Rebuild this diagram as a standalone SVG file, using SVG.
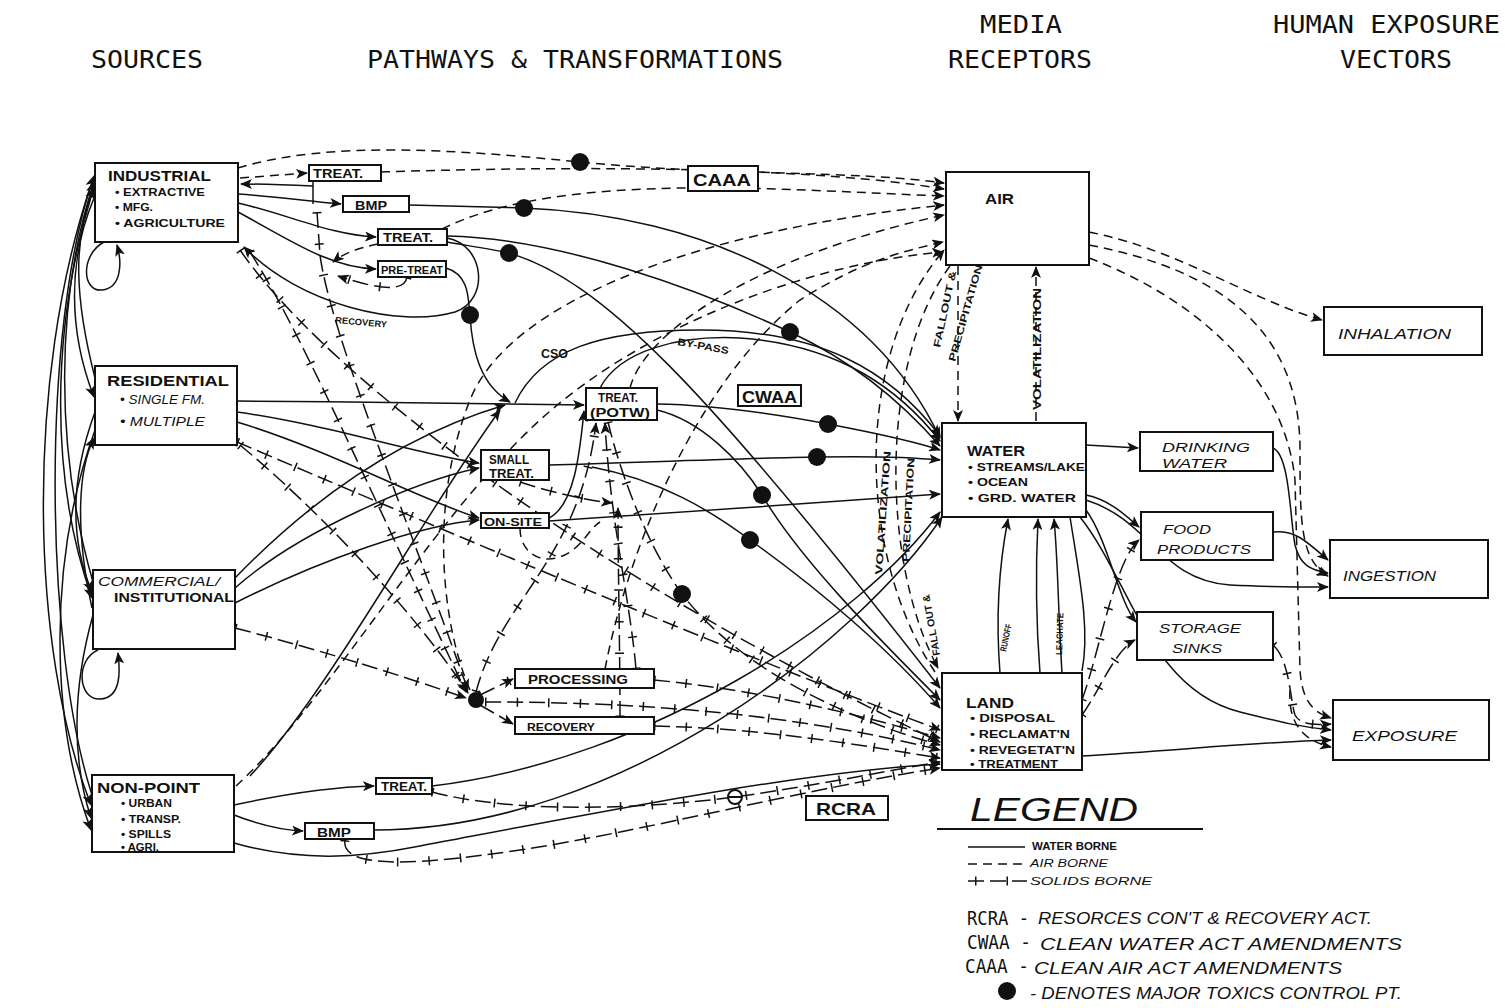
<svg xmlns="http://www.w3.org/2000/svg" width="1505" height="1008" viewBox="0 0 1505 1008">
<style>
.bg{fill:#fff}
.box{fill:#fff;stroke:#111;stroke-width:2}
.hd{font-family:"DejaVu Sans Mono","Liberation Mono",monospace;font-size:25px;fill:#111}
.cd{font-family:"DejaVu Sans Mono","Liberation Mono",monospace;font-size:20px;fill:#111}
.lb{font-family:"Liberation Sans",Arial,sans-serif;fill:#111;font-weight:bold}
.hw{font-family:"Liberation Sans",Arial,sans-serif;font-style:italic;fill:#111}
.w{fill:none;stroke:#111;stroke-width:1.5}
.a{fill:none;stroke:#111;stroke-width:1.5;stroke-dasharray:9 6}
.s{fill:none;stroke:#111;stroke-width:1.5;stroke-dasharray:16 6}
.t{fill:none;stroke:#111;stroke-width:9;stroke-dasharray:1.5 30}
.dot{fill:#111}
</style>
<defs>
<marker id="ah" viewBox="0 0 12 10" refX="11" refY="5" markerWidth="12" markerHeight="10" markerUnits="userSpaceOnUse" orient="auto">
<path d="M0,0 L12,5 L0,10 L3,5 z" fill="#111"/>
</marker>
</defs>
<rect class="bg" x="0" y="0" width="1505" height="1008"/>

<g id="headers">
<text class="hd" x="91" y="68" textLength="112" lengthAdjust="spacingAndGlyphs">SOURCES</text>
<text class="hd" x="367" y="68" textLength="416" lengthAdjust="spacingAndGlyphs">PATHWAYS &amp; TRANSFORMATIONS</text>
<text class="hd" x="980" y="33" textLength="82" lengthAdjust="spacingAndGlyphs">MEDIA</text>
<text class="hd" x="948" y="68" textLength="144" lengthAdjust="spacingAndGlyphs">RECEPTORS</text>
<text class="hd" x="1273" y="33" textLength="227" lengthAdjust="spacingAndGlyphs">HUMAN EXPOSURE</text>
<text class="hd" x="1340" y="68" textLength="112" lengthAdjust="spacingAndGlyphs">VECTORS</text>
</g>

<g id="connectors">
<path class="w" marker-end="url(#ah)" d="M92,795 C45,650 40,330 94,176"/>
<path class="w" marker-end="url(#ah)" d="M93,582 C55,450 55,300 94,182"/>
<path class="w" marker-end="url(#ah)" d="M95,378 C75,300 72,240 94,188"/>
<path class="w" marker-end="url(#ah)" d="M94,198 C68,260 68,330 94,397"/>
<path class="w" marker-end="url(#ah)" d="M93,190 C50,330 50,480 92,598"/>
<path class="w" marker-end="url(#ah)" d="M91,185 C25,380 30,650 91,805"/>
<path class="w" marker-end="url(#ah)" d="M95,412 C70,480 70,540 92,592"/>
<path class="w" marker-end="url(#ah)" d="M92,608 C75,530 78,470 94,438"/>
<path class="w" marker-end="url(#ah)" d="M93,615 C72,690 72,760 91,818"/>
<path class="w" marker-end="url(#ah)" d="M95,430 C48,560 50,720 91,830"/>
<path class="w" marker-end="url(#ah)" d="M104,242 C80,255 82,292 102,290 C122,288 122,262 117,245"/>
<path class="w" marker-end="url(#ah)" d="M98,650 C75,660 78,700 100,699 C122,698 120,670 118,653"/>

<path class="a" marker-end="url(#ah)" d="M238,168 C330,140 460,150 580,162 C720,176 850,170 944,183"/>
<path class="a" marker-end="url(#ah)" d="M240,178 L307,173"/>
<path class="a" marker-end="url(#ah)" d="M381,172 C600,165 820,168 944,189"/>
<path class="w" marker-end="url(#ah)" d="M238,194 C270,196 300,200 341,204"/>
<path class="w" d="M313,181 L313,204"/>
<path class="w" marker-end="url(#ah)" d="M313,186 C290,185 265,184 241,184"/>
<path class="w" marker-end="url(#ah)" d="M238,203 C290,215 330,235 376,237"/>
<path class="w" marker-end="url(#ah)" d="M238,212 C290,240 330,268 376,269"/>
<path class="w" marker-end="url(#ah)" d="M447,238 C485,245 490,300 455,312 C400,328 300,305 244,247"/>
<path class="w" marker-end="url(#ah)" d="M446,268 C470,275 468,300 470,315 C472,350 480,385 510,402"/>
<path class="a" marker-end="url(#ah)" d="M378,244 C360,248 345,252 333,262"/>
<path class="s" marker-end="url(#ah)" d="M407,277 C405,292 380,290 338,276"/>
<path class="t" d="M407,277 C405,292 380,290 338,276"/>
<path class="s" marker-end="url(#ah)" d="M317,212 L320,255 C330,330 400,500 468,690"/>
<path class="t" d="M317,212 L320,255 C330,330 400,500 468,690"/>
<path class="s" marker-end="url(#ah)" d="M240,250 C330,380 600,580 940,742"/>
<path class="t" d="M240,250 C330,380 600,580 940,742"/>
<path class="s" marker-end="url(#ah)" d="M250,252 C300,330 360,470 466,692"/>
<path class="t" d="M250,252 C300,330 360,470 466,692"/>
<path class="w" marker-end="url(#ah)" d="M409,205 C460,206 490,207 524,208 C700,215 870,290 940,438"/>
<path class="w" marker-end="url(#ah)" d="M447,236 C560,238 700,290 790,332 C850,360 900,400 940,446"/>
<path class="w" marker-end="url(#ah)" d="M447,242 C470,246 490,249 509,253 C600,280 700,380 940,688"/>
<path class="a" marker-end="url(#ah)" d="M442,229 C560,170 780,190 944,196"/>

<path class="w" marker-end="url(#ah)" d="M237,401 C350,402 450,403 584,405"/>
<path class="w" marker-end="url(#ah)" d="M237,412 C330,425 420,455 479,463"/>
<path class="w" marker-end="url(#ah)" d="M237,422 C330,450 420,500 479,518"/>
<path class="w" marker-end="url(#ah)" d="M235,578 C330,480 420,430 505,405"/>
<path class="w" marker-end="url(#ah)" d="M235,588 C300,530 420,480 479,468"/>
<path class="w" marker-end="url(#ah)" d="M235,603 C320,560 420,525 479,520"/>
<path class="w" marker-end="url(#ah)" d="M250,776 C330,690 420,520 500,410"/>
<path class="s" marker-end="url(#ah)" d="M237,442 C420,520 700,640 940,730"/>
<path class="t" d="M237,442 C420,520 700,640 940,730"/>
<path class="s" marker-end="url(#ah)" d="M240,445 C330,520 420,620 468,693"/>
<path class="t" d="M240,445 C330,520 420,620 468,693"/>
<path class="s" marker-end="url(#ah)" d="M235,628 C320,650 400,675 466,698"/>
<path class="t" d="M235,628 C320,650 400,675 466,698"/>

<path class="w" marker-end="url(#ah)" d="M515,403 C540,350 600,330 700,330 C820,330 890,370 940,436"/>
<path class="w" marker-end="url(#ah)" d="M600,388 C620,350 680,335 740,338 C840,345 900,390 940,441"/>
<path class="w" marker-end="url(#ah)" d="M657,404 C720,405 780,415 828,424 C870,432 910,440 940,450"/>
<path class="w" marker-end="url(#ah)" d="M657,410 C700,420 740,460 762,495 C800,560 880,640 940,700"/>
<path class="w" marker-end="url(#ah)" d="M549,465 C650,462 750,458 817,457 C870,456 910,457 940,460"/>
<path class="w" marker-end="url(#ah)" d="M592,467 C660,480 710,510 750,540 C820,590 890,650 940,708"/>
<path class="w" marker-end="url(#ah)" d="M549,518 C575,505 580,450 584,411"/>
<path class="w" marker-end="url(#ah)" d="M549,521 C650,515 850,500 940,494"/>
<path class="a" d="M520,528 C520,555 545,568 570,552 C585,542 590,528 600,522"/>
<path class="a" marker-end="url(#ah)" d="M630,388 C645,330 760,255 944,215"/>
<path class="a" marker-end="url(#ah)" d="M470,690 C440,620 430,500 470,400 C510,300 700,230 944,205"/>
<path class="a" marker-end="url(#ah)" d="M605,669 C630,540 700,380 800,300 C860,262 900,252 943,242"/>

<path class="s" marker-end="url(#ah)" d="M520,482 C550,492 585,500 612,503"/>
<path class="t" d="M520,482 C550,492 585,500 612,503"/>
<path class="s" marker-end="url(#ah)" d="M620,717 C620,650 618,570 618,508"/>
<path class="t" d="M620,717 C620,650 618,570 618,508"/>
<path class="s" marker-end="url(#ah)" d="M636,669 C630,600 610,520 605,423"/>
<path class="t" d="M636,669 C630,600 610,520 605,423"/>
<path class="s" marker-end="url(#ah)" d="M476,692 C500,600 580,560 596,423"/>
<path class="t" d="M476,692 C500,600 580,560 596,423"/>
<path class="s" marker-end="url(#ah)" d="M608,422 C622,480 650,550 682,594 C740,670 850,720 940,745"/>
<path class="t" d="M608,422 C622,480 650,550 682,594 C740,670 850,720 940,745"/>
<path class="s" marker-end="url(#ah)" d="M480,695 L513,679"/>
<path class="s" marker-end="url(#ah)" d="M480,705 L513,724"/>
<path class="t" d="M480,695 L513,679"/>
<path class="s" marker-end="url(#ah)" d="M485,702 C650,702 800,715 940,750"/>
<path class="t" d="M485,702 C650,702 800,715 940,750"/>
<path class="s" marker-end="url(#ah)" d="M654,680 C760,690 860,715 940,738"/>
<path class="t" d="M654,680 C760,690 860,715 940,738"/>
<path class="s" marker-end="url(#ah)" d="M654,726 C760,728 860,745 940,758"/>
<path class="t" d="M654,726 C760,728 860,745 940,758"/>

<path class="w" marker-end="url(#ah)" d="M234,805 C280,795 330,787 374,786"/>
<path class="w" marker-end="url(#ah)" d="M234,815 C260,825 280,830 303,831"/>
<path class="w" marker-end="url(#ah)" d="M234,843 C300,862 360,858 420,846 C600,812 800,772 940,764"/>
<path class="w" marker-end="url(#ah)" d="M432,786 C650,760 860,620 940,512"/>
<path class="w" marker-end="url(#ah)" d="M374,830 C620,830 860,640 942,517"/>
<path class="s" marker-end="url(#ah)" d="M432,792 C520,815 650,808 735,797 C820,785 890,770 940,762"/>
<path class="t" d="M432,792 C520,815 650,808 735,797 C820,785 890,770 940,762"/>
<path class="s" marker-end="url(#ah)" d="M345,840 C340,870 420,865 520,850 C650,830 800,790 940,768"/>
<path class="t" d="M345,840 C340,870 420,865 520,850 C650,830 800,790 940,768"/>
<path class="a" marker-end="url(#ah)" d="M236,786 C330,700 430,520 540,420 C650,320 820,262 943,252"/>

<path class="a" marker-end="url(#ah)" d="M935,672 C860,560 850,360 944,250"/>
<path class="a" marker-end="url(#ah)" d="M950,266 C880,360 880,560 938,668"/>
<path class="a" marker-end="url(#ah)" d="M958,266 L958,421"/>
<path class="a" marker-end="url(#ah)" d="M1036,421 L1036,267"/>
<path class="w" marker-end="url(#ah)" d="M1000,673 C995,610 1000,560 1008,519"/>
<path class="w" marker-end="url(#ah)" d="M1040,673 C1035,610 1036,560 1038,519"/>
<path class="w" marker-end="url(#ah)" d="M1062,673 C1058,610 1058,560 1054,519"/>
<path class="w" d="M1070,517 C1080,580 1090,630 1082,671"/>

<path class="a" marker-end="url(#ah)" d="M1089,232 C1180,250 1250,300 1322,320"/>
<path class="a" marker-end="url(#ah)" d="M1089,245 C1220,270 1300,330 1300,450 C1300,520 1300,560 1328,576"/>
<path class="a" marker-end="url(#ah)" d="M1089,258 C1200,300 1285,380 1295,480 L1300,670 C1302,700 1312,712 1331,718"/>
<path class="a" marker-end="url(#ah)" d="M1290,690 C1288,720 1300,740 1331,747"/>
<path class="w" marker-end="url(#ah)" d="M1086,445 L1138,448"/>
<path class="w" marker-end="url(#ah)" d="M1086,495 C1110,500 1125,515 1139,527"/>
<path class="w" marker-end="url(#ah)" d="M1086,500 C1150,520 1160,580 1230,585 C1270,587 1300,587 1328,587"/>
<path class="w" marker-end="url(#ah)" d="M1080,517 C1130,580 1150,690 1240,712 C1280,722 1300,727 1331,730"/>
<path class="w" marker-end="url(#ah)" d="M1086,510 C1108,540 1118,600 1136,622"/>
<path class="s" marker-end="url(#ah)" d="M1082,700 C1100,650 1115,560 1139,540"/>
<path class="t" d="M1082,700 C1100,650 1115,560 1139,540"/>
<path class="s" marker-end="url(#ah)" d="M1082,715 C1100,690 1115,650 1135,640"/>
<path class="t" d="M1082,715 C1100,690 1115,650 1135,640"/>
<path class="w" marker-end="url(#ah)" d="M1082,756 C1180,750 1260,742 1331,740"/>
<path class="w" marker-end="url(#ah)" d="M1273,448 C1290,455 1290,520 1295,545 C1300,565 1310,570 1328,573"/>
<path class="w" marker-end="url(#ah)" d="M1273,532 C1295,530 1305,540 1328,560"/>
<path class="s" marker-end="url(#ah)" d="M1273,645 C1290,660 1290,700 1295,715 C1300,725 1315,725 1331,724"/>
<path class="t" d="M1273,645 C1290,660 1290,700 1295,715 C1300,725 1315,725 1331,724"/>
</g>

<g id="control-points">
<circle class="dot" cx="580" cy="162" r="9"/>
<circle class="dot" cx="524" cy="208" r="9"/>
<circle class="dot" cx="509" cy="253" r="9"/>
<circle class="dot" cx="470" cy="315" r="9"/>
<circle class="dot" cx="790" cy="332" r="9"/>
<circle class="dot" cx="828" cy="424" r="9"/>
<circle class="dot" cx="817" cy="457" r="9"/>
<circle class="dot" cx="762" cy="495" r="9"/>
<circle class="dot" cx="750" cy="540" r="9"/>
<circle class="dot" cx="682" cy="594" r="9"/>
<circle class="dot" cx="476" cy="700" r="8"/>
<circle cx="735" cy="797" r="7" fill="#fff" stroke="#111" stroke-width="2"/>
<line x1="728" y1="797" x2="742" y2="797" stroke="#111" stroke-width="2"/>
</g>

<g id="line-labels">
<text class="lb" font-size="9" x="335" y="323" textLength="52" lengthAdjust="spacingAndGlyphs" transform="rotate(5 335 323)">RECOVERY</text>
<text class="lb" font-size="13" x="541" y="358" textLength="27" lengthAdjust="spacingAndGlyphs">CSO</text>
<text class="lb" font-size="10" x="677" y="345" textLength="52" lengthAdjust="spacingAndGlyphs" transform="rotate(10 677 345)">BY-PASS</text>
<text class="lb" font-size="10" transform="translate(940,348) rotate(-78)" textLength="78" lengthAdjust="spacingAndGlyphs">FALLOUT &amp;</text>
<text class="lb" font-size="10" transform="translate(955,362) rotate(-74)" textLength="100" lengthAdjust="spacingAndGlyphs">PRECIPITATION</text>
<text class="lb" font-size="10" transform="translate(1041,410) rotate(-90)" textLength="122" lengthAdjust="spacingAndGlyphs">VOLATILIZATION</text>
<text class="lb" font-size="10" transform="translate(882,575) rotate(-86)" textLength="124" lengthAdjust="spacingAndGlyphs">VOLATILIZATION</text>
<text class="lb" font-size="10" transform="translate(909,562) rotate(-87)" textLength="104" lengthAdjust="spacingAndGlyphs">PRECIPITATION</text>
<text class="lb" font-size="10" transform="translate(940,655) rotate(-100)" textLength="62" lengthAdjust="spacingAndGlyphs">FALL OUT &amp;</text>
<text class="lb" font-size="9" transform="translate(1006,652) rotate(-78)" textLength="28" lengthAdjust="spacingAndGlyphs">RUNOFF</text>
<text class="lb" font-size="9" transform="translate(1062,655) rotate(-88)" textLength="42" lengthAdjust="spacingAndGlyphs">LEACHATE</text>
</g>

<g id="node-industrial">
<rect class="box" x="95" y="163" width="143" height="79"/>
<text class="lb" font-size="14" x="108" y="181" textLength="103" lengthAdjust="spacingAndGlyphs">INDUSTRIAL</text>
<text class="lb" font-size="10" x="115" y="196" textLength="90" lengthAdjust="spacingAndGlyphs">• EXTRACTIVE</text>
<text class="lb" font-size="10" x="115" y="211" textLength="38" lengthAdjust="spacingAndGlyphs">• MFG.</text>
<text class="lb" font-size="10" x="115" y="227" textLength="110" lengthAdjust="spacingAndGlyphs">• AGRICULTURE</text>
</g>
<g id="node-residential">
<rect class="box" x="95" y="366" width="142" height="79"/>
<text class="lb" font-size="14" x="107" y="386" textLength="122" lengthAdjust="spacingAndGlyphs">RESIDENTIAL</text>
<text class="hw" font-size="12" x="120" y="404" textLength="85" lengthAdjust="spacingAndGlyphs">• SINGLE FM.</text>
<text class="hw" font-size="12" x="120" y="426" textLength="85" lengthAdjust="spacingAndGlyphs">• MULTIPLE</text>
</g>
<g id="node-commercial">
<rect class="box" x="93" y="570" width="142" height="79"/>
<text class="hw" font-size="13" x="98" y="586" textLength="122" lengthAdjust="spacingAndGlyphs">COMMERCIAL/</text>
<text class="lb" font-size="12" x="114" y="602" textLength="120" lengthAdjust="spacingAndGlyphs">INSTITUTIONAL</text>
</g>
<g id="node-nonpoint">
<rect class="box" x="92" y="775" width="142" height="77"/>
<text class="lb" font-size="14" x="97" y="793" textLength="103" lengthAdjust="spacingAndGlyphs">NON-POINT</text>
<text class="lb" font-size="10" x="121" y="807" textLength="51" lengthAdjust="spacingAndGlyphs">• URBAN</text>
<text class="lb" font-size="10" x="121" y="823" textLength="60" lengthAdjust="spacingAndGlyphs">• TRANSP.</text>
<text class="lb" font-size="10" x="121" y="838" textLength="50" lengthAdjust="spacingAndGlyphs">• SPILLS</text>
<text class="lb" font-size="10" x="121" y="851" textLength="38" lengthAdjust="spacingAndGlyphs">• AGRI.</text>
</g>

<g id="node-treat-ind">
<rect class="box" x="309" y="165" width="72" height="16"/>
<text class="lb" font-size="12" x="313" y="178" textLength="50" lengthAdjust="spacingAndGlyphs">TREAT.</text>
</g>
<g id="node-bmp-ind">
<rect class="box" x="343" y="196" width="66" height="16"/>
<text class="lb" font-size="13" x="355" y="210" textLength="32" lengthAdjust="spacingAndGlyphs">BMP</text>
</g>
<g id="node-treat-ind2">
<rect class="box" x="378" y="229" width="69" height="16"/>
<text class="lb" font-size="12" x="383" y="242" textLength="50" lengthAdjust="spacingAndGlyphs">TREAT.</text>
</g>
<g id="node-pretreat">
<rect class="box" x="378" y="261" width="68" height="16"/>
<text class="lb" font-size="11" x="381" y="274" textLength="62" lengthAdjust="spacingAndGlyphs">PRE-TREAT</text>
</g>
<g id="node-potw">
<rect class="box" x="586" y="388" width="71" height="32"/>
<text class="lb" font-size="12" x="598" y="402" textLength="40" lengthAdjust="spacingAndGlyphs">TREAT.</text>
<text class="lb" font-size="12" x="590" y="417" textLength="60" lengthAdjust="spacingAndGlyphs">(POTW)</text>
</g>
<g id="node-smalltreat">
<rect class="box" x="481" y="450" width="68" height="30"/>
<text class="lb" font-size="12" x="489" y="464" textLength="40" lengthAdjust="spacingAndGlyphs">SMALL</text>
<text class="lb" font-size="12" x="489" y="478" textLength="45" lengthAdjust="spacingAndGlyphs">TREAT.</text>
</g>
<g id="node-onsite">
<rect class="box" x="481" y="513" width="68" height="15"/>
<text class="lb" font-size="11" x="484" y="526" textLength="58" lengthAdjust="spacingAndGlyphs">ON-SITE</text>
</g>
<g id="node-processing">
<rect class="box" x="515" y="669" width="139" height="19"/>
<text class="lb" font-size="12" x="528" y="684" textLength="100" lengthAdjust="spacingAndGlyphs">PROCESSING</text>
</g>
<g id="node-recovery">
<rect class="box" x="515" y="717" width="139" height="17"/>
<text class="lb" font-size="11" x="527" y="731" textLength="68" lengthAdjust="spacingAndGlyphs">RECOVERY</text>
</g>
<g id="node-treat-np">
<rect class="box" x="376" y="778" width="56" height="16"/>
<text class="lb" font-size="12" x="381" y="791" textLength="46" lengthAdjust="spacingAndGlyphs">TREAT.</text>
</g>
<g id="node-bmp-np">
<rect class="box" x="305" y="823" width="69" height="16"/>
<text class="lb" font-size="13" x="317" y="837" textLength="34" lengthAdjust="spacingAndGlyphs">BMP</text>
</g>
<g id="node-caaa">
<rect class="box" x="688" y="166" width="70" height="25"/>
<text class="lb" font-size="17" x="693" y="186" textLength="58" lengthAdjust="spacingAndGlyphs">CAAA</text>
</g>
<g id="node-cwaa">
<rect class="box" x="738" y="385" width="63" height="21"/>
<text class="lb" font-size="16" x="742" y="403" textLength="55" lengthAdjust="spacingAndGlyphs">CWAA</text>
</g>
<g id="node-rcra">
<rect class="box" x="806" y="796" width="82" height="24"/>
<text class="lb" font-size="17" x="816" y="815" textLength="60" lengthAdjust="spacingAndGlyphs">RCRA</text>
</g>

<g id="node-air">
<rect class="box" x="946" y="172" width="143" height="93"/>
<text class="lb" font-size="14" x="985" y="204" textLength="29" lengthAdjust="spacingAndGlyphs">AIR</text>
</g>
<g id="node-water">
<rect class="box" x="942" y="423" width="144" height="94"/>
<text class="lb" font-size="14" x="967" y="456" textLength="58" lengthAdjust="spacingAndGlyphs">WATER</text>
<text class="lb" font-size="10" x="968" y="471" textLength="117" lengthAdjust="spacingAndGlyphs">• STREAMS/LAKE</text>
<text class="lb" font-size="10" x="968" y="486" textLength="60" lengthAdjust="spacingAndGlyphs">• OCEAN</text>
<text class="lb" font-size="10" x="968" y="502" textLength="108" lengthAdjust="spacingAndGlyphs">• GRD. WATER</text>
</g>
<g id="node-land">
<rect class="box" x="942" y="673" width="140" height="97"/>
<text class="lb" font-size="14" x="966" y="708" textLength="48" lengthAdjust="spacingAndGlyphs">LAND</text>
<text class="lb" font-size="10" x="970" y="722" textLength="85" lengthAdjust="spacingAndGlyphs">• DISPOSAL</text>
<text class="lb" font-size="10" x="970" y="738" textLength="100" lengthAdjust="spacingAndGlyphs">• RECLAMAT'N</text>
<text class="lb" font-size="10" x="970" y="754" textLength="105" lengthAdjust="spacingAndGlyphs">• REVEGETAT'N</text>
<text class="lb" font-size="10" x="970" y="768" textLength="88" lengthAdjust="spacingAndGlyphs">• TREATMENT</text>
</g>

<g id="node-drinking">
<rect class="box" x="1140" y="432" width="133" height="39"/>
<text class="hw" font-size="13" x="1162" y="452" textLength="88" lengthAdjust="spacingAndGlyphs">DRINKING</text>
<text class="hw" font-size="13" x="1162" y="468" textLength="65" lengthAdjust="spacingAndGlyphs">WATER</text>
</g>
<g id="node-food">
<rect class="box" x="1141" y="512" width="132" height="48"/>
<text class="hw" font-size="13" x="1163" y="534" textLength="48" lengthAdjust="spacingAndGlyphs">FOOD</text>
<text class="hw" font-size="13" x="1157" y="554" textLength="94" lengthAdjust="spacingAndGlyphs">PRODUCTS</text>
</g>
<g id="node-storage">
<rect class="box" x="1137" y="612" width="136" height="48"/>
<text class="hw" font-size="13" x="1159" y="633" textLength="82" lengthAdjust="spacingAndGlyphs">STORAGE</text>
<text class="hw" font-size="13" x="1172" y="653" textLength="50" lengthAdjust="spacingAndGlyphs">SINKS</text>
</g>
<g id="node-inhalation">
<rect class="box" x="1324" y="307" width="158" height="48"/>
<text class="hw" font-size="15" x="1338" y="339" textLength="113" lengthAdjust="spacingAndGlyphs">INHALATION</text>
</g>
<g id="node-ingestion">
<rect class="box" x="1330" y="540" width="158" height="58"/>
<text class="hw" font-size="15" x="1343" y="581" textLength="93" lengthAdjust="spacingAndGlyphs">INGESTION</text>
</g>
<g id="node-exposure">
<rect class="box" x="1333" y="700" width="156" height="60"/>
<text class="hw" font-size="15" x="1352" y="741" textLength="105" lengthAdjust="spacingAndGlyphs">EXPOSURE</text>
</g>

<g id="legend">
<text class="hw" font-size="34" x="970" y="821" textLength="168" lengthAdjust="spacingAndGlyphs">LEGEND</text>
<line x1="937" y1="829" x2="1203" y2="829" stroke="#111" stroke-width="2"/>
<path class="w" d="M968,847 L1025,847"/>
<text class="lb" font-size="11" x="1032" y="850" textLength="85" lengthAdjust="spacingAndGlyphs">WATER BORNE</text>
<path class="a" d="M968,864 L1025,864"/>
<text class="hw" font-size="11" x="1030" y="867" textLength="78" lengthAdjust="spacingAndGlyphs">AIR BORNE</text>
<path class="s" d="M968,881 L1027,881"/>
<path class="t" d="M975,881 L1027,881"/>
<text class="hw" font-size="11" x="1030" y="885" textLength="122" lengthAdjust="spacingAndGlyphs">SOLIDS BORNE</text>
<text class="cd" x="967" y="925" textLength="62" lengthAdjust="spacingAndGlyphs">RCRA -</text>
<text class="hw" font-size="16" x="1038" y="924" textLength="334" lengthAdjust="spacingAndGlyphs">RESORCES CON'T &amp; RECOVERY ACT.</text>
<text class="cd" x="967" y="949" textLength="64" lengthAdjust="spacingAndGlyphs">CWAA -</text>
<text class="hw" font-size="16" x="1040" y="950" textLength="362" lengthAdjust="spacingAndGlyphs">CLEAN WATER ACT AMENDMENTS</text>
<text class="cd" x="965" y="973" textLength="64" lengthAdjust="spacingAndGlyphs">CAAA -</text>
<text class="hw" font-size="16" x="1034" y="974" textLength="308" lengthAdjust="spacingAndGlyphs">CLEAN AIR ACT AMENDMENTS</text>
<circle class="dot" cx="1007" cy="991" r="9"/>
<text class="hw" font-size="16" x="1030" y="999" textLength="372" lengthAdjust="spacingAndGlyphs">- DENOTES MAJOR TOXICS CONTROL PT.</text>
</g>
</svg>
